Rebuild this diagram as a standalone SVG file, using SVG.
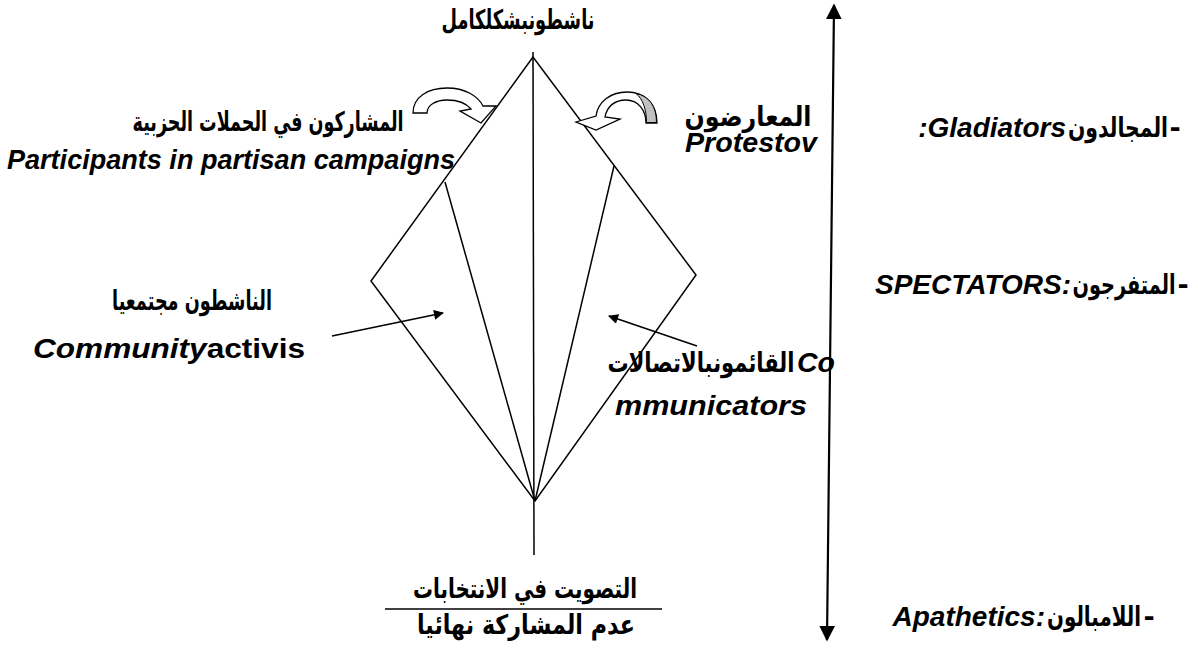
<svg xmlns="http://www.w3.org/2000/svg" width="1198" height="650" viewBox="0 0 1198 650">
<style>
.ar{font-family:"DejaVu Sans","Liberation Sans",sans-serif;font-weight:bold;font-size:27px;fill:#000}
.en{font-family:"Liberation Sans",Arial,sans-serif;font-weight:bold;font-style:italic;font-size:28px;fill:#000}
.ln{stroke:#000;stroke-width:1.5;fill:none}
.blk{fill:#fff;stroke:#000;stroke-width:1.3}
</style>
<defs>
<marker id="ah" viewBox="0 0 10 10" refX="9" refY="5" markerWidth="14" markerHeight="10" markerUnits="userSpaceOnUse" orient="auto"><path d="M0,0 L10,5 L0,10 Z" fill="#000"/></marker>
<marker id="bh" viewBox="0 0 10 10" refX="9" refY="5" markerWidth="16" markerHeight="16" markerUnits="userSpaceOnUse" orient="auto-start-reverse"><path d="M0,0 L10,5 L0,10 Z" fill="#000"/></marker>
</defs>
<rect width="1198" height="650" fill="#fff"/>
<g id="connectors">
<path class="ln" d="M533,57 L371,281 L535,501 L696,275 Z"/>
<line class="ln" x1="533" y1="52" x2="534" y2="555"/>
<line class="ln" x1="445" y1="182" x2="535" y2="501"/>
<line class="ln" x1="614" y1="166" x2="535" y2="501"/>
<line class="ln" x1="385" y1="609" x2="662" y2="609"/>
<line x1="834" y1="5" x2="827" y2="640" stroke="#000" stroke-width="2.2" marker-start="url(#bh)" marker-end="url(#bh)"/>
<line class="ln" x1="332" y1="336" x2="443" y2="313" stroke-width="2.2" marker-end="url(#ah)"/>
<line class="ln" x1="697" y1="346" x2="609" y2="316" stroke-width="2.2" marker-end="url(#ah)"/>
<path class="blk" d="M413,113 C413,97 428,88 447,88 C465,88 478,96 483,106 L496,106 L481,123 L460,111 L471,109 C466,103 458,100 447,100 C436,100 427,105 427,113 Z"/>
<path class="blk" d="M657,123 C657,104 645,92 627,92 C610,92 598,102 596,116 L576,122 L596,130 L620,119 L605,117 C607,106 615,100 626,100 C638,100 646,110 646,123 Z"/>
<path d="M656.5,122.5 C656.5,106 649,96 636,93.5 C643,99 646.5,110 646.5,122.5 Z" fill="#c0c0c0" stroke="#000" stroke-width="1"/>
</g>
<g id="top-node"><text class="ar" x="518" y="29" text-anchor="middle" textLength="153" lengthAdjust="spacingAndGlyphs">ناشطونبشكلكامل</text></g>
<g id="partisan-node">
<text class="ar" x="268" y="131" text-anchor="middle" textLength="271" lengthAdjust="spacingAndGlyphs">المشاركون في الحملات الحزبية</text>
<text class="en" x="7" y="169" textLength="448" lengthAdjust="spacingAndGlyphs">Participants in partisan campaigns</text>
</g>
<g id="protest-node">
<text class="ar" x="748" y="126" text-anchor="middle" textLength="127" lengthAdjust="spacingAndGlyphs">المعارضون</text>
<text class="en" x="685" y="152" textLength="132" lengthAdjust="spacingAndGlyphs">Protestov</text>
</g>
<g id="community-node">
<text class="ar" x="192" y="310" text-anchor="middle" textLength="160" lengthAdjust="spacingAndGlyphs">الناشطون مجتمعيا</text>
<text class="en" x="33" y="358" textLength="272" lengthAdjust="spacingAndGlyphs">Community<tspan font-style="normal">activis</tspan></text>
</g>
<g id="communicators-node">
<text class="ar" x="701" y="372" text-anchor="middle" textLength="187" lengthAdjust="spacingAndGlyphs">القائمونبالاتصالات</text>
<text class="en" x="797" y="372" textLength="38" lengthAdjust="spacingAndGlyphs">Co</text>
<text class="en" x="615" y="415" textLength="192" lengthAdjust="spacingAndGlyphs">mmunicators</text>
</g>
<g id="bottom-node">
<text class="ar" x="525" y="598" text-anchor="middle" textLength="224" lengthAdjust="spacingAndGlyphs">التصويت في الانتخابات</text>
<text class="ar" x="526" y="634" text-anchor="middle" textLength="218" lengthAdjust="spacingAndGlyphs">عدم المشاركة نهائيا</text>
</g>
<g id="gladiators-label">
<text class="en" x="1066" y="137" text-anchor="end">:Gladiators</text>
<text class="ar" x="1118" y="137" text-anchor="middle" textLength="100" lengthAdjust="spacingAndGlyphs">المجالدون</text>
<text class="ar" x="1175" y="137" text-anchor="middle">-</text>
</g>
<g id="spectators-label">
<text class="en" x="1071" y="294" text-anchor="end">SPECTATORS:</text>
<text class="ar" x="1124" y="294" text-anchor="middle" textLength="103" lengthAdjust="spacingAndGlyphs">المتفرجون</text>
<text class="ar" x="1183" y="294" text-anchor="middle">-</text>
</g>
<g id="apathetics-label">
<text class="en" x="1045" y="626" text-anchor="end">Apathetics:</text>
<text class="ar" x="1094" y="626" text-anchor="middle" textLength="94" lengthAdjust="spacingAndGlyphs">اللامبالون</text>
<text class="ar" x="1149" y="626" text-anchor="middle">-</text>
</g>
</svg>
